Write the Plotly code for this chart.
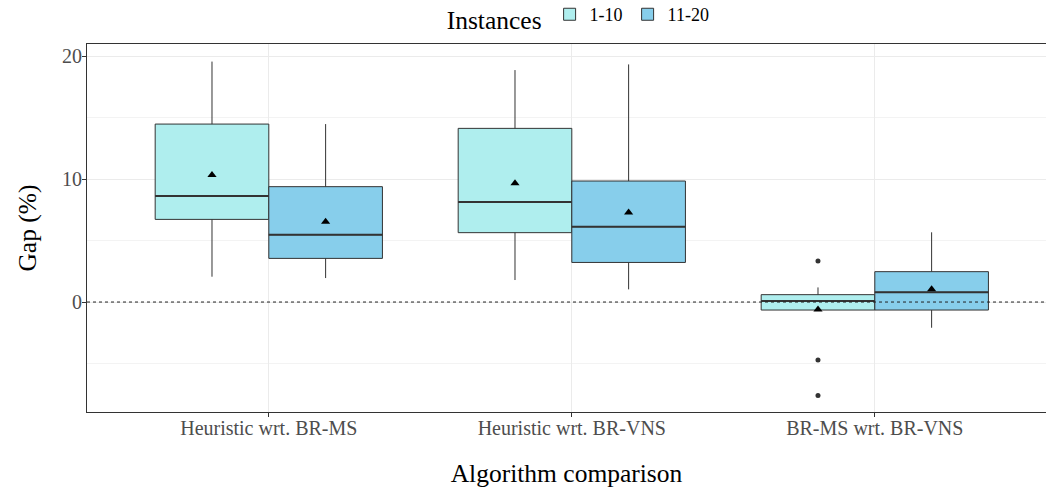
import plotly.graph_objects as go

categories = ["Heuristic wrt. BR-MS", "Heuristic wrt. BR-VNS", "BR-MS wrt. BR-VNS"]
series_names = ["1-10", "11-20"]
series_colors = ["#AFEEEE", "#87CEEB"]

# per series: values for each category
upper_whisker = [[19.55, 18.86, 1.19], [14.47, 19.32, 5.67]]
q3_vals = [[14.47, 14.12, 0.60], [9.38, 9.84, 2.47]]
median_vals = [[8.62, 8.13, 0.08], [5.47, 6.13, 0.79]]
q1_vals = [[6.72, 5.64, -0.65], [3.55, 3.22, -0.65]]
lower_whisker = [[2.06, 1.79, -0.65], [1.95, 1.03, -2.09]]
mean_vals = [[10.33, 9.65, -0.60], [6.53, 7.29, 1.03]]

# outliers: (category index, series index, value)
outlier_cat = [2, 2, 2]
outlier_series = [0, 0, 0]
outlier_vals = [3.33, -4.72, -7.59]

y_ticks = [0, 10, 20]

dodge = 0.75
n_series = len(series_names)
bw = dodge / n_series


def pos(ci, si):
    return ci - dodge / 2 + bw * (si + 0.5)


fig = go.Figure()
FONT = "Liberation Serif"

for si, name in enumerate(series_names):
    xs = [pos(ci, si) for ci in range(len(categories))]
    fig.add_trace(go.Box(
        x=xs, q1=q1_vals[si], median=median_vals[si], q3=q3_vals[si],
        lowerfence=lower_whisker[si], upperfence=upper_whisker[si],
        width=bw, whiskerwidth=0, fillcolor=series_colors[si],
        line=dict(color="#333333", width=1), name=name, boxpoints=False,
        hoverinfo="skip", legendgroup=name,
    ))

# thick medians
for si, name in enumerate(series_names):
    mx, my = [], []
    for ci in range(len(categories)):
        c = pos(ci, si)
        mx += [c - bw / 2, c + bw / 2, None]
        my += [median_vals[si][ci], median_vals[si][ci], None]
    fig.add_trace(go.Scatter(x=mx, y=my, mode="lines", line=dict(color="#333333", width=2),
                             showlegend=False, hoverinfo="skip"))

# zero line
fig.add_hline(y=0, line=dict(color="#222222", width=1, dash="3px,3px"))

# means
for si, name in enumerate(series_names):
    fig.add_trace(go.Scatter(
        x=[pos(ci, si) for ci in range(len(categories))], y=mean_vals[si], mode="markers",
        marker=dict(symbol="triangle-up", size=8, color="black"),
        showlegend=False, hoverinfo="skip"))

# outliers
fig.add_trace(go.Scatter(
    x=[pos(c, s) for c, s in zip(outlier_cat, outlier_series)], y=outlier_vals, mode="markers",
    marker=dict(symbol="circle", size=5, color="#333333"), showlegend=False, hoverinfo="skip"))

fig.update_layout(
    width=1046, height=488,
    margin=dict(l=87, r=0, t=44, b=76, autoexpand=False),
    paper_bgcolor="white", plot_bgcolor="white",
    font=dict(family=FONT, color="black"),
    legend=dict(orientation="h", x=0.373, xanchor="left", y=0.963, yref="container", yanchor="middle",
                title=dict(text="Instances", font=dict(size=25.5, family=FONT)),
                font=dict(size=18, family=FONT), itemwidth=30, tracegroupgap=0),
    xaxis=dict(
        range=[-0.6, 2.565], tickmode="array", tickvals=list(range(len(categories))),
        ticktext=categories, showgrid=True, gridcolor="#EBEBEB", gridwidth=1,
        zeroline=False, showline=True, linecolor="#333333", linewidth=1, mirror=True,
        ticks="outside", ticklen=4, tickcolor="#333333",
        tickfont=dict(size=20, color="#4D4D4D", family=FONT),
        ticklabelstandoff=-6, automargin=False,
        title=dict(text="Algorithm comparison", font=dict(size=25.5, family=FONT), standoff=28),
    ),
    yaxis=dict(
        range=[-8.94, 20.98], tickmode="array", tickvals=y_ticks,
        showgrid=True, gridcolor="#EBEBEB", gridwidth=1, zeroline=False,
        showline=True, linecolor="#333333", linewidth=1,
        ticks="outside", ticklen=4, tickcolor="#333333",
        tickfont=dict(size=20, color="#4D4D4D", family=FONT),
        ticklabelstandoff=-4, automargin=False,
        minor=dict(tickmode="array", tickvals=[-5, 5, 15], showgrid=True, gridcolor="#F3F3F3", gridwidth=1),
        title=dict(text="Gap (%)", font=dict(size=25.5, family=FONT), standoff=18),
    ),
)

fig.write_html("out.html")
